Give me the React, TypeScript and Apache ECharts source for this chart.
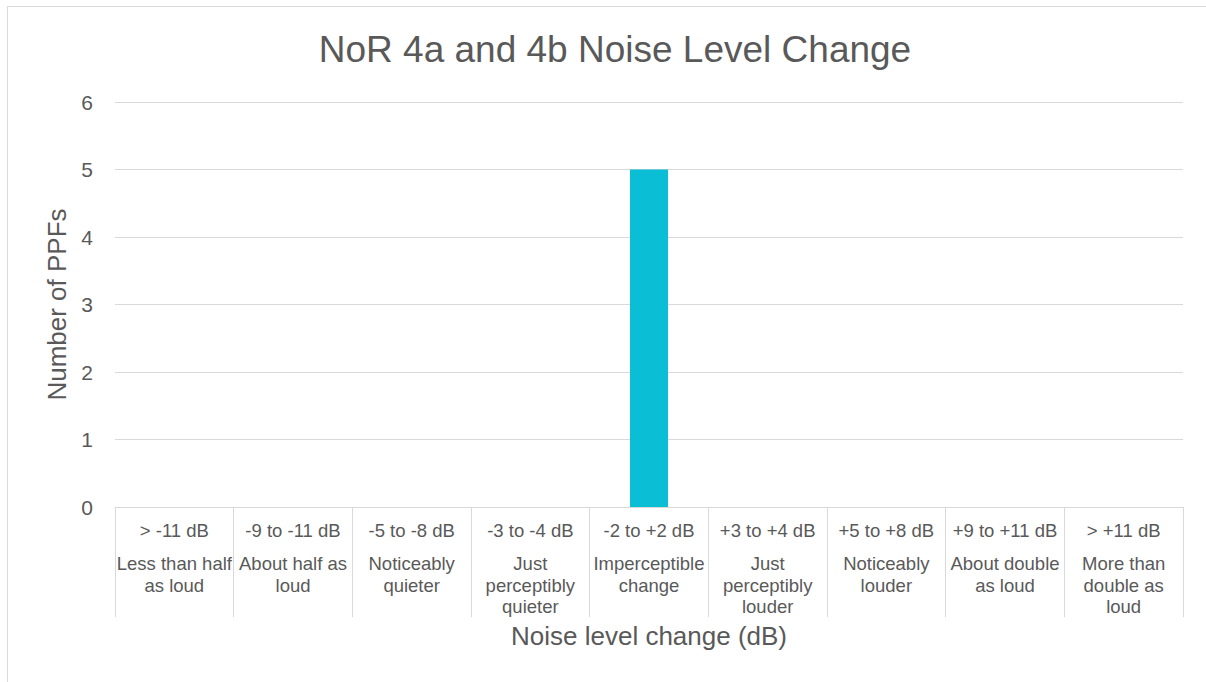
import React, { useEffect, useRef } from "react";
import * as echarts from "echarts";

const rangeLabels = [
  "> -11 dB",
  "-9 to -11 dB",
  "-5 to -8 dB",
  "-3 to -4 dB",
  "-2 to +2 dB",
  "+3 to +4 dB",
  "+5 to +8 dB",
  "+9 to +11 dB",
  "> +11 dB",
];

const descriptionLines = [
  ["Less than half", "as loud"],
  ["About half as", "loud"],
  ["Noticeably", "quieter"],
  ["Just", "perceptibly", "quieter"],
  ["Imperceptible", "change"],
  ["Just", "perceptibly", "louder"],
  ["Noticeably", "louder"],
  ["About double", "as loud"],
  ["More than", "double as", "loud"],
];

const ppfCounts = [0, 0, 0, 0, 5, 0, 0, 0, 0];

const yTicks = { min: 0, max: 6, interval: 1 };

const titleText = "NoR 4a and 4b Noise Level Change";
const xAxisName = "Noise level change (dB)";
const yAxisName = "Number of PPFs";

const FONT = "'Liberation Sans', Arial, sans-serif";
const TEXT = "#595959";
const LINE = "#d9d9d9";

export default function App() {
  const ref = useRef<HTMLDivElement>(null);

  useEffect(() => {
    if (!ref.current) return;
    const chart = echarts.init(ref.current, null, { renderer: "svg" });
    const categories = rangeLabels.map((r, i) =>
      ["{a|" + r + "}", ...descriptionLines[i].map((l) => "{b|" + l + "}")].join("\n")
    );
    chart.setOption({
      animation: false,
      backgroundColor: "#ffffff",
      textStyle: { fontFamily: FONT, color: TEXT },
      graphic: [
        {
          type: "rect",
          shape: { x: 7.5, y: 6.5, width: 1230, height: 720 },
          style: { fill: "none", stroke: LINE, lineWidth: 1 },
          silent: true,
        },
      ],
      title: {
        text: titleText,
        left: 610,
        top: 26,
        textAlign: "center",
        textStyle: { fontFamily: FONT, color: TEXT, fontSize: 37, fontWeight: "normal" },
      },
      grid: { left: 115, right: 23, top: 102, bottom: 175, containLabel: false },
      xAxis: {
        type: "category",
        data: categories,
        name: xAxisName,
        nameLocation: "middle",
        nameGap: 116,
        nameTextStyle: { fontFamily: FONT, color: TEXT, fontSize: 26 },
        axisLine: { lineStyle: { color: LINE, width: 1 } },
        axisTick: { show: true, interval: 0, length: 110, lineStyle: { color: LINE, width: 1 } },
        axisLabel: {
          interval: 0,
          margin: 0,
          color: TEXT,
          fontFamily: FONT,
          rich: {
            a: { fontFamily: FONT, color: TEXT, fontSize: 18.5, lineHeight: 46, align: "center" },
            b: { fontFamily: FONT, color: TEXT, fontSize: 18.5, lineHeight: 21.5, align: "center" },
          },
        },
      },
      yAxis: {
        type: "value",
        min: yTicks.min,
        max: yTicks.max,
        interval: yTicks.interval,
        name: yAxisName,
        nameLocation: "middle",
        nameGap: 44,
        nameTextStyle: { fontFamily: FONT, color: TEXT, fontSize: 26 },
        axisLine: { show: false },
        axisTick: { show: false },
        axisLabel: { fontFamily: FONT, color: TEXT, fontSize: 21, margin: 22 },
        splitLine: { lineStyle: { color: LINE, width: 1 } },
      },
      series: [
        {
          type: "bar",
          data: ppfCounts,
          barWidth: 38,
          itemStyle: { color: "#0ABED6" },
        },
      ],
    });
    return () => chart.dispose();
  }, []);

  return (
    <div
      ref={ref}
      style={{ position: "absolute", left: 0, top: 0, width: 1206, height: 682 }}
    />
  );
}
